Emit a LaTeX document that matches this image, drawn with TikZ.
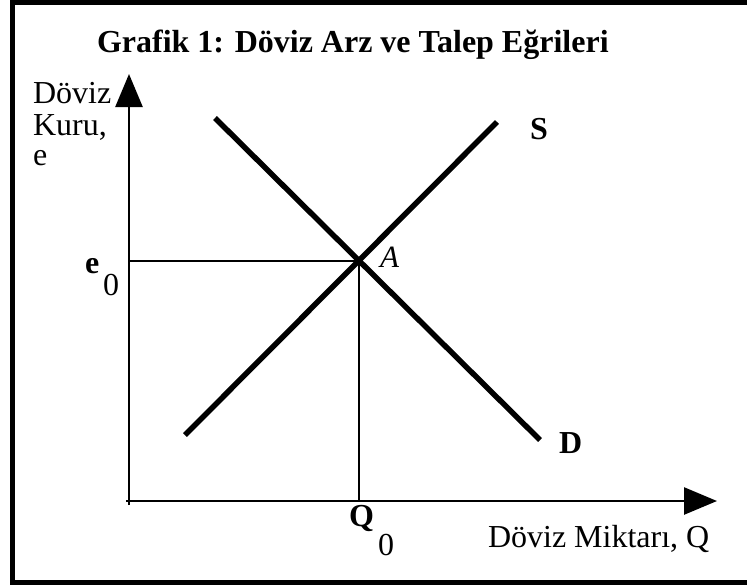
\documentclass[tikz,border=0pt]{standalone}
\usepackage{fontspec}
\setmainfont{Liberation Serif}
\usetikzlibrary{arrows.meta}
\begin{document}
\begin{tikzpicture}[x=1pt,y=-1pt,
  lbl/.style={anchor=base west,inner sep=0pt,outer sep=0pt,font=\fontsize{32}{36}\selectfont},
  blbl/.style={lbl,font=\fontsize{32}{36}\selectfont\bfseries},
  axis/.style={line width=2.6pt,-{Triangle[length=33pt,width=27pt]}},
  curve/.style={line width=5.5pt},
  guide/.style={line width=2pt}]
\useasboundingbox (0,0) rectangle (747,587);
% frame (right side is cut off)
\draw[line width=5pt] (12.5,2.5) rectangle (770,582.5);
% title
\node[blbl] (title) at (97,52) {Grafik 1: Döviz Arz ve Talep Eğrileri};
% axes
\coordinate (O) at (129,505);
\coordinate (Ytip) at (129,74);
\coordinate (Xs) at (126,501);
\coordinate (Xtip) at (717,501);
\draw[axis] (O) -- (Ytip);
\draw[axis] (Xs) -- (Xtip);
% curves
\coordinate (D1) at (215,118);
\coordinate (D2) at (540,440);
\coordinate (S1) at (185,435);
\coordinate (S2) at (497,122);
\coordinate (A) at (359,261);
\coordinate (E0) at (129,261);
\coordinate (Q0) at (359,501);
\draw[guide] (E0) -- (A);
\draw[guide] (A) -- (Q0);
\draw[curve] (D1) -- (D2);
\draw[curve] (S1) -- (S2);
% labels
\node[lbl] (y1) at (33,103) {Döviz};
\node[lbl] (y2) at (33,135) {Kuru,};
\node[lbl] (y3) at (33,165) {e};
\node[blbl] (e) at (85,273) {e};
\node[lbl] (e0) at (103,295) {0};
\node[lbl,font=\fontsize{31}{36}\selectfont\itshape] (Alab) at (380,267) {A};
\node[blbl] (Slab) at (530,139) {S};
\node[blbl] (Dlab) at (559,453) {D};
\node[blbl] (Q) at (349,526) {Q};
\node[lbl] (q0) at (378,555) {0};
\node[lbl] (xlab) at (488,547) {Döviz Miktarı, Q};
\end{tikzpicture}
\end{document}
